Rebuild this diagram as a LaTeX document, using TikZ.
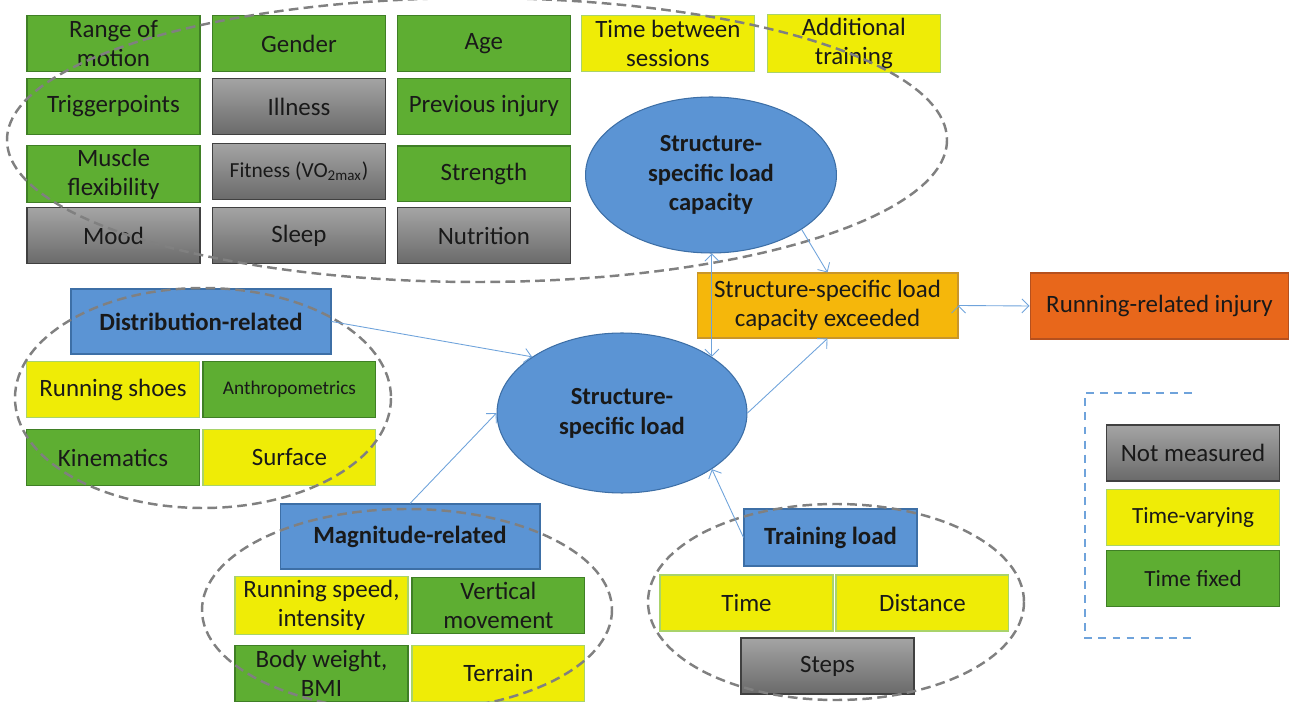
\documentclass[tikz,border=0pt]{standalone}
\usepackage{fontspec}
\setmainfont{Carlito}
\usetikzlibrary{positioning}
\usetikzlibrary{arrows.meta}
\usetikzlibrary{shapes.geometric}

\definecolor{fixgreen}{HTML}{5EAE32}
\definecolor{fixedge}{HTML}{3F7F25}
\definecolor{varyellow}{HTML}{EFEC06}
\definecolor{varedge}{HTML}{A9D36A}
\definecolor{nmtop}{HTML}{A4A4A4}
\definecolor{nmbottom}{HTML}{6A6A6A}
\definecolor{nmedge}{HTML}{404040}
\definecolor{hubblue}{HTML}{5B94D4}
\definecolor{hubedge}{HTML}{3D6FA6}
\definecolor{exceed}{HTML}{F5B70B}
\definecolor{exceededge}{HTML}{C9962A}
\definecolor{injury}{HTML}{E8671B}
\definecolor{injuryedge}{HTML}{B5501E}
\definecolor{linkblue}{HTML}{6FA3DB}
\definecolor{ringgrey}{HTML}{808080}

\begin{document}
\begin{tikzpicture}[x=0.02cm, y=-0.02cm, on grid, semithick, inner sep=2pt,
  >={Straight Barb[length=4pt,width=8pt]},
  cell/.style={rectangle, minimum width=3.46cm, minimum height=1.12cm, align=center,
    text=black!90, font=\fontsize{14.2}{16.5}\selectfont},
  tfixed/.style={cell, fill=fixgreen, draw=fixedge},
  tvary/.style={cell, fill=varyellow, draw=varedge},
  notmeas/.style={cell, top color=nmtop, bottom color=nmbottom, draw=nmedge},
  factor/.style={cell, fill=hubblue, draw=hubedge, minimum width=5.2cm, minimum height=1.3cm,
    font=\fontsize{14.1}{16.5}\selectfont\bfseries},
  hub/.style={ellipse, fill=hubblue, draw=hubedge, align=center, text=black!90,
    font=\fontsize{14}{17}\selectfont\bfseries},
  ring/.style={draw=ringgrey, line width=1.4pt, dash pattern=on 5.5pt off 3pt},
  link/.style={draw=linkblue, line width=0.5pt}]

\useasboundingbox (0,0) rectangle (1289,702);

% person / capacity factors
\node [tfixed] (rom) at (113.5,43.5) {Range of\\motion};
\node [tfixed, right=3.71cm of rom] (gender) {Gender};
\node [tfixed, right=3.7cm of gender] (age) {Age};
\node [tvary, right=3.68cm of age] (between) {Time between\\sessions};
\node [tvary, right=3.72cm of between] (extra) {Additional\\training};
\node [tfixed, below=1.26cm of rom] (trigger) {Triggerpoints};
\node [notmeas, below=1.26cm of gender] (illness) {Illness};
\node [tfixed, below=1.26cm of age] (previnj) {Previous injury};
\node [tfixed, below=1.35cm of trigger] (flex) {Muscle\\flexibility};
\node [notmeas, below=1.3cm of illness, font=\fontsize{12.2}{14}\selectfont] (fitness) {Fitness (VO\textsubscript{2max})};
\node [tfixed, below=1.35cm of previnj] (strength) {Strength};
\node [notmeas, below=1.24cm of flex] (mood) {Mood};
\node [notmeas, below=1.28cm of fitness] (sleep) {Sleep};
\node [notmeas, below=1.24cm of strength] (nutrition) {Nutrition};

% distribution
\node [factor] (dist) at (201,321.5) {Distribution-related};
\node [tvary] (shoes) at (113,389.5) {Running shoes};
\node [tfixed, right=3.53cm of shoes, font=\fontsize{11}{13}\selectfont] (anthro) {Anthropometrics};
\node [tfixed, below=1.36cm of shoes] (kinem) {Kinematics};
\node [tvary, below=1.36cm of anthro] (surface) {Surface};

% magnitude
\node [factor] (mag) at (410,536.5) {Magnitude-related};
\node [tvary] (speed) at (321.5,605.5) {Running speed,\\intensity};
\node [tfixed, right=3.54cm of speed] (vert) {Vertical\\movement};
\node [tfixed, below=1.36cm of speed] (bmi) {Body weight,\\BMI};
\node [tvary, below=1.36cm of vert] (terrain) {Terrain};

% training load
\node [factor, minimum width=3.46cm, minimum height=1.14cm] (train) at (830.5,537.5) {Training load};
\node [tvary] (time) at (746.5,603) {Time};
\node [tvary, right=3.52cm of time] (distance) {Distance};
\node [notmeas] (steps) at (827.5,666) {Steps};

% centre
\node [hub, minimum width=5cm, minimum height=3.2cm] (load) at (622,413) {Structure-\\specific load};
\node [hub, minimum width=5.02cm, minimum height=3.12cm] (cap) at (711,175) {Structure-\\specific load\\capacity};
\node [cell, fill=exceed, draw=exceededge, minimum width=5.22cm, minimum height=1.3cm] (exc) at (827.5,305.5) {Structure-specific load\\capacity exceeded};
\node [cell, fill=injury, draw=injuryedge, minimum width=5.18cm, minimum height=1.32cm] (inj) at (1159.5,306) {Running-related injury};

% legend
\node [notmeas] (lnm) at (1193,453) {Not measured};
\node [tvary, font=\fontsize{13.2}{15}\selectfont] (lvary) at (1193,517.5) {Time-varying};
\node [tfixed, font=\fontsize{13.2}{15}\selectfont] (lfix) at (1193,578.5) {Time fixed};
\coordinate (lt) at (1192,393);
\coordinate (lb) at (1192,638);
\draw [linkblue, line width=1pt, dash pattern=on 4.5pt off 3.5pt] (lt) -- (1085,393) -- (1085,638) -- (lb);

% groups
\draw [ring] (477,140) ellipse [x radius=470, y radius=142];
\draw [ring] (203,398) ellipse [x radius=188, y radius=110];
\draw [ring] (407,610) ellipse [x radius=205, y radius=101];
\draw [ring] (836,602) ellipse [x radius=188, y radius=98];

\path [link, ->]
  (dist.east) edge (load.148)
  (mag.north) edge (load.west)
  (train.west) edge (load.-32)
  (load.east) edge (exc.south)
  (cap.-31) edge (exc.north)
  (exc.east) edge (inj.west);
\draw [link, <->] (load.32 |- cap.south) -- (load.32);

\end{tikzpicture}
\end{document}
